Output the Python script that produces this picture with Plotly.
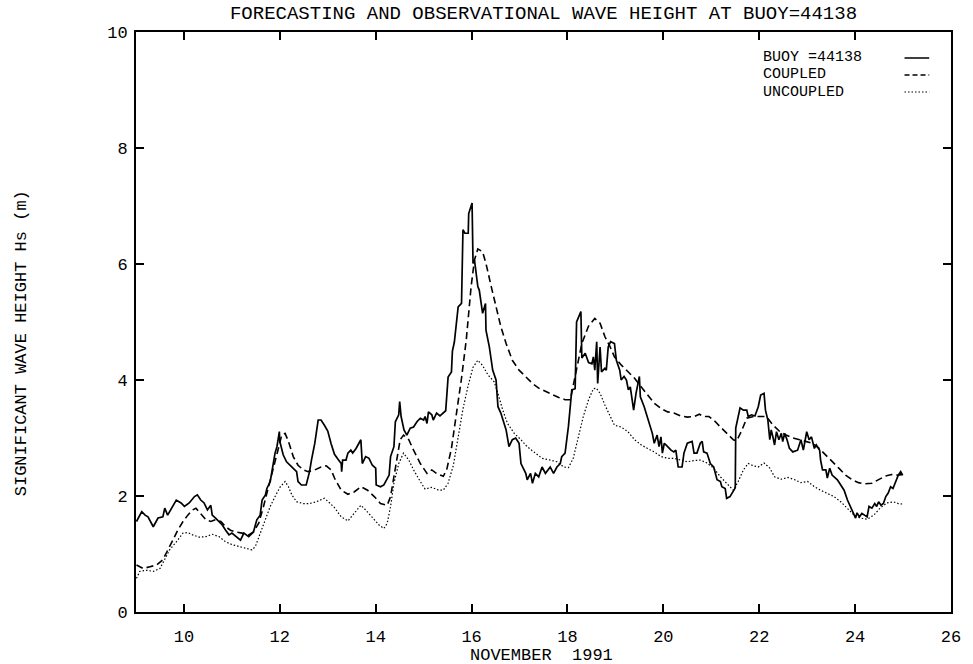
import plotly.graph_objects as go

# ---------------- data ----------------
buoy_day = [9.01, 9.12, 9.19, 9.25, 9.36, 9.46, 9.56, 9.60, 9.66, 9.84, 9.94, 10.01, 10.11, 10.22, 10.28,
            10.35, 10.42, 10.49, 10.56, 10.59, 10.66, 10.80, 10.87, 10.94, 11.00, 11.08, 11.18, 11.25, 11.35,
            11.45, 11.52, 11.59, 11.63, 11.70, 11.73, 11.80, 11.83, 11.90, 11.94, 11.99, 12.00, 12.07, 12.14,
            12.25, 12.35, 12.38, 12.45, 12.55, 12.62, 12.66, 12.73, 12.80, 12.86, 12.93, 13.00, 13.07, 13.14,
            13.21, 13.28, 13.29, 13.31, 13.38, 13.42, 13.48, 13.52, 13.59, 13.69, 13.72, 13.79, 13.86, 13.93,
            14.00, 14.01, 14.10, 14.17, 14.28, 14.31, 14.38, 14.41, 14.48, 14.50, 14.53, 14.59, 14.65, 14.72,
            14.79, 14.86, 14.93, 15.00, 15.03, 15.07, 15.10, 15.17, 15.20, 15.27, 15.34, 15.41, 15.46, 15.51,
            15.56, 15.58, 15.60, 15.64, 15.72, 15.79, 15.82, 15.86, 15.93, 15.94, 16.01, 16.03, 16.06, 16.13,
            16.16, 16.23, 16.29, 16.30, 16.37, 16.44, 16.51, 16.55, 16.61, 16.72, 16.78, 16.85, 16.92, 16.99,
            17.03, 17.13, 17.16, 17.23, 17.27, 17.33, 17.40, 17.47, 17.54, 17.64, 17.71, 17.78, 17.85, 17.88,
            17.95, 18.02, 18.09, 18.16, 18.19, 18.28, 18.30, 18.37, 18.44, 18.51, 18.54, 18.57, 18.61, 18.63,
            18.68, 18.71, 18.78, 18.81, 18.85, 18.90, 18.98, 19.02, 19.09, 19.12, 19.18, 19.23, 19.27, 19.31,
            19.38, 19.43, 19.50, 19.52, 19.60, 19.64, 19.71, 19.77, 19.81, 19.87, 19.91, 19.95, 19.98, 20.02,
            20.09, 20.16, 20.22, 20.26, 20.31, 20.39, 20.43, 20.50, 20.60, 20.64, 20.70, 20.77, 20.81, 20.84,
            20.91, 20.98, 21.05, 21.08, 21.12, 21.19, 21.22, 21.29, 21.32, 21.39, 21.46, 21.50, 21.51, 21.60,
            21.67, 21.74, 21.77, 21.84, 21.91, 21.98, 22.03, 22.10, 22.13, 22.18, 22.22, 22.25, 22.29, 22.32,
            22.36, 22.41, 22.46, 22.49, 22.53, 22.58, 22.63, 22.70, 22.80, 22.87, 22.92, 22.99, 23.04, 23.09,
            23.15, 23.19, 23.26, 23.28, 23.32, 23.39, 23.42, 23.47, 23.52, 23.63, 23.70, 23.77, 23.84, 23.91,
            23.98, 24.01, 24.04, 24.09, 24.14, 24.21, 24.25, 24.29, 24.35, 24.41, 24.45, 24.49, 24.54, 24.59,
            24.64, 24.69, 24.74, 24.79, 24.83, 24.90, 24.95, 24.99]
buoy_hs = [1.56, 1.73, 1.67, 1.64, 1.47, 1.62, 1.64, 1.79, 1.67, 1.93, 1.88, 1.82, 1.88, 1.99, 2.02,
           1.93, 1.88, 1.76, 1.84, 1.67, 1.62, 1.50, 1.41, 1.33, 1.36, 1.30, 1.24, 1.36, 1.30,
           1.38, 1.59, 1.67, 1.93, 2.02, 2.13, 2.25, 2.42, 2.74, 2.85, 3.11, 2.94, 2.71, 2.59,
           2.50, 2.42, 2.25, 2.19, 2.19, 2.42, 2.62, 2.91, 3.31, 3.31, 3.22, 3.12, 2.90, 2.72,
           2.64, 2.56, 2.42, 2.62, 2.62, 2.74, 2.79, 2.74, 2.82, 2.97, 2.56, 2.68, 2.65, 2.53,
           2.48, 2.19, 2.16, 2.19, 2.36, 2.68, 2.85, 3.28, 3.40, 3.63, 3.37, 3.14, 3.05, 3.17,
           3.19, 3.28, 3.34, 3.31, 3.37, 3.25, 3.45, 3.40, 3.31, 3.43, 3.38, 3.44, 3.47, 4.05,
           4.12, 4.14, 4.50, 4.65, 5.26, 5.32, 6.59, 6.53, 6.53, 6.87, 7.05, 6.01, 6.07, 5.61,
           5.55, 5.15, 5.32, 4.86, 4.57, 4.17, 4.00, 3.54, 3.43, 3.14, 2.85, 2.97, 3.00, 2.91,
           2.56, 2.39, 2.28, 2.39, 2.22, 2.39, 2.33, 2.50, 2.39, 2.50, 2.39, 2.50, 2.56, 2.68,
           2.74, 3.20, 3.83, 3.85, 5.00, 5.18, 4.38, 4.46, 4.30, 4.28, 4.40, 4.17, 4.66, 3.94,
           4.57, 4.14, 4.20, 4.17, 4.57, 4.66, 4.63, 4.34, 4.17, 4.00, 4.06, 4.00, 3.83, 3.88,
           3.48, 3.77, 4.06, 3.71, 3.54, 3.43, 3.25, 3.08, 2.91, 3.05, 2.85, 3.02, 2.74, 2.91,
           2.85, 2.79, 2.76, 2.79, 2.50, 2.50, 2.74, 2.91, 2.94, 2.74, 2.74, 2.91, 2.94, 2.76,
           2.74, 2.56, 2.50, 2.39, 2.28, 2.25, 2.16, 2.13, 1.96, 1.99, 2.10, 2.14, 3.17, 3.52,
           3.48, 3.48, 3.37, 3.40, 3.38, 3.54, 3.74, 3.77, 3.48, 3.31, 2.97, 3.14, 3.00, 2.88,
           3.11, 2.97, 3.08, 2.94, 3.08, 2.97, 2.82, 2.76, 2.79, 2.97, 2.79, 3.11, 2.97, 3.02,
           2.82, 2.88, 2.79, 2.62, 2.45, 2.45, 2.31, 2.48, 2.36, 2.28, 2.19, 2.10, 1.93, 1.79,
           1.67, 1.62, 1.71, 1.64, 1.70, 1.67, 1.64, 1.82, 1.79, 1.87, 1.82, 1.90, 1.84, 1.87,
           1.99, 2.05, 2.16, 2.13, 2.22, 2.36, 2.42, 2.36]

coupled_day = [9.01, 9.15, 9.29, 9.43, 9.56, 9.67, 9.77, 9.87, 9.98, 10.08, 10.18, 10.25, 10.35, 10.46,
               10.56, 10.66, 10.77, 10.87, 10.97, 11.08, 11.21, 11.35, 11.45, 11.56, 11.66, 11.76, 11.87,
               11.97, 12.04, 12.11, 12.18, 12.28, 12.38, 12.49, 12.59, 12.73, 12.86, 12.97, 13.07, 13.14,
               13.28, 13.42, 13.55, 13.69, 13.83, 13.97, 14.10, 14.24, 14.31, 14.38, 14.45, 14.51, 14.58,
               14.69, 14.79, 14.93, 15.07, 15.17, 15.27, 15.41, 15.48, 15.58, 15.68, 15.79, 15.89, 15.99,
               16.06, 16.13, 16.23, 16.30, 16.41, 16.51, 16.61, 16.72, 16.85, 16.99, 17.13, 17.27, 17.40,
               17.54, 17.68, 17.82, 17.95, 18.06, 18.16, 18.30, 18.44, 18.57, 18.68, 18.78, 18.89, 18.98,
               19.12, 19.26, 19.40, 19.54, 19.67, 19.81, 19.95, 20.09, 20.22, 20.36, 20.50, 20.64, 20.75,
               20.84, 20.95, 21.05, 21.19, 21.32, 21.46, 21.53, 21.63, 21.74, 21.88, 22.01, 22.15, 22.29,
               22.43, 22.56, 22.70, 22.84, 22.97, 23.11, 23.25, 23.39, 23.52, 23.66, 23.80, 23.94, 24.07,
               24.21, 24.35, 24.49, 24.62, 24.76, 24.90, 25.00]
coupled_hs = [0.81, 0.75, 0.78, 0.81, 0.90, 1.07, 1.24, 1.41, 1.56, 1.67, 1.76, 1.79, 1.70, 1.59,
              1.56, 1.59, 1.56, 1.47, 1.41, 1.38, 1.36, 1.33, 1.38, 1.53, 1.82, 2.16, 2.50,
              2.82, 3.05, 3.08, 2.94, 2.68, 2.53, 2.45, 2.42, 2.45, 2.50, 2.52, 2.45, 2.31,
              2.10, 2.03, 2.07, 2.16, 2.10, 1.99, 1.87, 1.84, 1.99, 2.33, 2.68, 2.97, 3.05,
              2.97, 2.79, 2.56, 2.39, 2.45, 2.39, 2.34, 2.45, 2.82, 3.40, 4.03, 4.70, 5.61,
              6.07, 6.26, 6.21, 6.01, 5.61, 5.26, 4.92, 4.63, 4.34, 4.17, 4.06, 3.94, 3.86,
              3.80, 3.75, 3.70, 3.66, 3.66, 4.05, 4.63, 4.93, 5.06, 4.98, 4.75, 4.57, 4.40,
              4.26, 4.14, 4.03, 3.88, 3.74, 3.60, 3.51, 3.45, 3.43, 3.38, 3.36, 3.37, 3.41,
              3.37, 3.37, 3.31, 3.19, 3.08, 2.97, 2.95, 3.12, 3.34, 3.37, 3.37, 3.37, 3.22,
              3.11, 3.05, 3.00, 2.97, 2.94, 2.91, 2.82, 2.71, 2.59, 2.48, 2.36, 2.28, 2.23,
              2.21, 2.22, 2.28, 2.34, 2.37, 2.36, 2.37]

uncoupled_day = [9.01, 9.08, 9.22, 9.36, 9.50, 9.60, 9.70, 9.84, 9.98, 10.08, 10.18, 10.32, 10.46, 10.59,
                 10.73, 10.87, 11.01, 11.15, 11.28, 11.42, 11.49, 11.59, 11.70, 11.80, 11.90, 12.01, 12.11,
                 12.18, 12.25, 12.35, 12.49, 12.62, 12.76, 12.93, 13.04, 13.14, 13.28, 13.42, 13.55, 13.69,
                 13.79, 13.93, 14.07, 14.17, 14.24, 14.31, 14.38, 14.48, 14.58, 14.69, 14.79, 14.93, 15.03,
                 15.17, 15.31, 15.41, 15.51, 15.62, 15.72, 15.82, 15.93, 16.03, 16.13, 16.23, 16.34, 16.47,
                 16.55, 16.65, 16.75, 16.89, 17.03, 17.16, 17.33, 17.47, 17.64, 17.78, 17.92, 18.02, 18.12,
                 18.23, 18.33, 18.44, 18.54, 18.60, 18.68, 18.78, 18.89, 18.98, 19.12, 19.26, 19.40, 19.54,
                 19.67, 19.81, 19.95, 20.09, 20.22, 20.36, 20.50, 20.64, 20.77, 20.91, 21.05, 21.19, 21.32,
                 21.46, 21.56, 21.67, 21.77, 21.88, 21.98, 22.10, 22.22, 22.32, 22.46, 22.60, 22.74, 22.87,
                 23.01, 23.15, 23.28, 23.42, 23.56, 23.70, 23.84, 23.98, 24.11, 24.25, 24.39, 24.52, 24.66,
                 24.80, 24.90, 25.00]
uncoupled_hs = [0.58, 0.70, 0.72, 0.70, 0.75, 0.90, 1.07, 1.21, 1.36, 1.37, 1.33, 1.29, 1.30, 1.34,
                1.30, 1.21, 1.16, 1.13, 1.10, 1.07, 1.13, 1.36, 1.62, 1.82, 1.99, 2.16, 2.25,
                2.16, 2.02, 1.90, 1.87, 1.87, 1.90, 1.96, 1.88, 1.80, 1.64, 1.57, 1.70, 1.84,
                1.76, 1.62, 1.50, 1.44, 1.53, 1.82, 2.22, 2.56, 2.74, 2.62, 2.45, 2.25, 2.12,
                2.15, 2.10, 2.10, 2.22, 2.53, 3.00, 3.50, 3.91, 4.22, 4.34, 4.25, 4.09, 3.97,
                3.77, 3.48, 3.25, 3.08, 2.97, 2.85, 2.74, 2.65, 2.62, 2.59, 2.50, 2.49, 2.65,
                3.05, 3.37, 3.66, 3.85, 3.86, 3.77, 3.57, 3.37, 3.22, 3.19, 3.11, 2.97, 2.88,
                2.82, 2.76, 2.68, 2.65, 2.65, 2.62, 2.59, 2.61, 2.62, 2.57, 2.48, 2.33, 2.22,
                2.10, 2.25, 2.45, 2.56, 2.52, 2.50, 2.57, 2.48, 2.33, 2.29, 2.32, 2.28, 2.23,
                2.25, 2.16, 2.10, 2.05, 1.99, 1.90, 1.79, 1.67, 1.62, 1.60, 1.67, 1.79, 1.88,
                1.90, 1.87, 1.86]

x_ticks = [10, 12, 14, 16, 18, 20, 22, 24, 26]
y_ticks = [0, 2, 4, 6, 8, 10]
series_names = ["BUOY =44138", "COUPLED", "UNCOUPLED"]

# ---------------- figure ----------------
FONT = "Liberation Mono, Courier New, monospace"
W, H = 973, 664
L, R, T, B = 136, 13, 32, 52
pw, ph = W - L - R, H - T - B

def px_x(p):
    return (p - L) / pw

def px_y(p):
    return (H - B - p) / ph

fig = go.Figure()
fig.add_trace(go.Scatter(x=buoy_day, y=buoy_hs, mode="lines", name=series_names[0],
                         line=dict(color="black", width=1.7)))
fig.add_trace(go.Scatter(x=coupled_day, y=coupled_hs, mode="lines", name=series_names[1],
                         line=dict(color="black", width=1.6, dash="7px,4px")))
fig.add_trace(go.Scatter(x=uncoupled_day, y=uncoupled_hs, mode="lines", name=series_names[2],
                         line=dict(color="black", width=1.2, dash="1.5px,2px")))

axis_common = dict(showgrid=False, zeroline=False, showline=True, linecolor="black", linewidth=2,
                   mirror="ticks", ticks="inside", ticklen=8, tickwidth=1.5, tickcolor="black",
                   tickfont=dict(family=FONT, size=17, color="black"))
fig.update_xaxes(range=[9, 26], tickvals=x_ticks, ticktext=[str(v) for v in x_ticks],
                 ticklabelstandoff=8, **axis_common)
fig.update_yaxes(range=[0, 10], tickvals=y_ticks, ticktext=[str(v) for v in y_ticks],
                 ticklabelstandoff=3, **axis_common)

fig.update_layout(
    width=W, height=H,
    margin=dict(l=L, r=R, t=T, b=B, pad=0),
    plot_bgcolor="white", paper_bgcolor="white",
    showlegend=False,
    title=dict(text="FORECASTING AND OBSERVATIONAL WAVE HEIGHT AT BUOY=44138",
               font=dict(family=FONT, size=19, color="black"),
               x=0.5, xanchor="center", xref="paper",
               y=1 - 12 / H, yanchor="middle", yref="container"),
)

# axis titles
fig.add_annotation(text="SIGNIFICANT WAVE HEIGHT Hs (m)", textangle=-90, showarrow=False,
                   xref="paper", yref="paper", x=px_x(20), y=px_y(343),
                   xanchor="center", yanchor="middle",
                   font=dict(family=FONT, size=17, color="black"))
fig.add_annotation(text="NOVEMBER  1991", showarrow=False,
                   xref="paper", yref="paper", x=px_x(546), y=px_y(655),
                   xanchor="center", yanchor="middle",
                   font=dict(family=FONT, size=17, color="black"))

# legend (text on the left, line sample on the right)
dashes = ["solid", "5px,3px", "1.5px,2px"]
widths = [1.5, 1.5, 1.2]
for i, (name, d, w) in enumerate(zip(series_names, dashes, widths)):
    yy = 58 + 17 * i
    fig.add_annotation(text=name, showarrow=False, xref="paper", yref="paper",
                       x=px_x(769), y=px_y(yy), xanchor="left", yanchor="middle",
                       borderpad=0,
                       font=dict(family=FONT, size=15, color="black"))
    fig.add_shape(type="line", xref="paper", yref="paper",
                  x0=px_x(913), x1=px_x(938), y0=px_y(yy), y1=px_y(yy),
                  line=dict(color="black", width=w, dash=d))

fig.write_html("out.html")
